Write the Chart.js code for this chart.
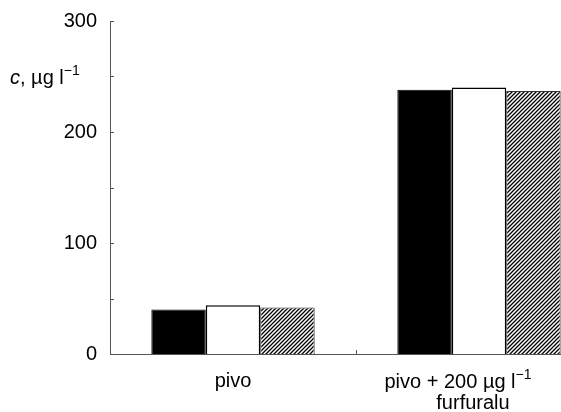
<!DOCTYPE html>
<html><head><meta charset="utf-8">
<script src="https://cdn.jsdelivr.net/npm/chart.js@4/dist/chart.umd.min.js"></script>
<style>
html,body{margin:0;padding:0;background:#fff;overflow:hidden}
#wrap{width:561px;height:412px;overflow:hidden;position:relative}
canvas{display:block}
</style></head>
<body><div id="wrap"><canvas id="c" width="620" height="412"></canvas></div>
<script>
const categories = ["pivo", "pivo + 200 µg l−1 furfuralu"];
const seriesA = [40, 238];   // black
const seriesB = [44, 240];   // white
const seriesC = [42, 237];   // hatched
const yTicks = [0, 100, 200, 300];
const yMinorStep = 50;

function hatch(){
  const s = 4, cv = document.createElement('canvas');
  cv.width = s; cv.height = s;
  const g = cv.getContext('2d');
  g.fillStyle = '#fff'; g.fillRect(0,0,s,s);
  g.strokeStyle = '#000'; g.lineWidth = 1.3;
  g.beginPath();
  g.moveTo(-1, s+1); g.lineTo(s+1, -1);
  g.moveTo(-1, 1); g.lineTo(1, -1);
  g.moveTo(s-1, s+1); g.lineTo(s+1, s-1);
  g.stroke();
  return g.createPattern(cv, 'repeat');
}

const FONT = '20px "Liberation Sans", Arial, sans-serif';
const FONT_I = 'italic 20px "Liberation Sans", Arial, sans-serif';
const FONT_S = '14px "Liberation Sans", Arial, sans-serif';

function richWidth(ctx, parts){
  let w = 0;
  for (const p of parts){ ctx.font = p.f; w += ctx.measureText(p.t).width; }
  return w;
}
function drawRich(ctx, parts, x, y){
  for (const p of parts){
    ctx.font = p.f;
    ctx.fillText(p.t, x, y + (p.dy||0));
    x += ctx.measureText(p.t).width;
  }
}

const decor = {
  id: 'decor',
  afterDraw(chart){
    const ctx = chart.ctx, xs = chart.scales.x, ys = chart.scales.y;
    const L = chart.chartArea.left, B = chart.chartArea.bottom;
    ctx.save();
    ctx.strokeStyle = '#555'; ctx.lineWidth = 1;
    for (let v = ys.min; v <= ys.max; v += yMinorStep){
      const py = Math.round(ys.getPixelForValue(v)) + 0.5;
      ctx.beginPath(); ctx.moveTo(L, py); ctx.lineTo(L + 4, py); ctx.stroke();
    }
    const p0 = xs.getPixelForValue(0), p1 = xs.getPixelForValue(1);
    const bounds = [(p0+p1)/2, p1 + (p1-p0)/2];
    for (const bx of bounds){
      const px = Math.round(bx) + 0.5;
      ctx.beginPath(); ctx.moveTo(px, B); ctx.lineTo(px, B - 4); ctx.stroke();
    }
    ctx.fillStyle = '#000';
    ctx.font = FONT; ctx.textAlign = 'right'; ctx.textBaseline = 'middle';
    for (const v of yTicks){
      ctx.fillText(String(v), L - 13, ys.getPixelForValue(v));
    }
    ctx.textAlign = 'left'; ctx.textBaseline = 'alphabetic';
    const ty = ys.getPixelForValue(250) + 7;
    drawRich(ctx, [
      {t:'c', f:FONT_I}, {t:', µg l', f:FONT}, {t:'−1', f:FONT_S, dy:-9}
    ], 10, ty);
    const lb = B + 33;
    ctx.font = FONT; ctx.textAlign = 'center';
    ctx.fillText(categories[0], p0, lb);
    ctx.textAlign = 'left';
    const parts = [{t:'pivo + 200 µg l', f:FONT}, {t:'−1', f:FONT_S, dy:-9}];
    const w = richWidth(ctx, parts);
    const cx2 = p1 - 21;
    drawRich(ctx, parts, cx2 - w/2, lb + 1);
    ctx.font = FONT; ctx.textAlign = 'center';
    ctx.fillText('furfuralu', p1 - 6, lb + 22);
    ctx.restore();
  }
};

new Chart(document.getElementById('c'), {
  type: 'bar',
  data: {
    labels: categories,
    datasets: [
      {data: seriesA, backgroundColor: '#000', borderColor: '#000', borderWidth: 1},
      {data: seriesB, backgroundColor: '#fff', borderColor: '#000', borderWidth: 1.5},
      {data: seriesC, backgroundColor: hatch(), borderColor: '#333', borderWidth: 1}
    ]
  },
  options: {
    responsive: false, animation: false,
    layout: {padding: {left: 110, right: 18, top: 21, bottom: 58}},
    plugins: {legend: {display: false}, tooltip: {enabled: false}},
    datasets: {bar: {barPercentage: 1, categoryPercentage: 0.664}},
    scales: {
      x: {ticks: {display: false}, grid: {display: false, drawTicks: false},
          border: {display: true, color: '#555', width: 1}},
      y: {min: 0, max: 300, ticks: {display: false, stepSize: 50},
          grid: {display: false, drawTicks: false},
          border: {display: true, color: '#555', width: 1}}
    }
  },
  plugins: [decor]
});
</script></body></html>
